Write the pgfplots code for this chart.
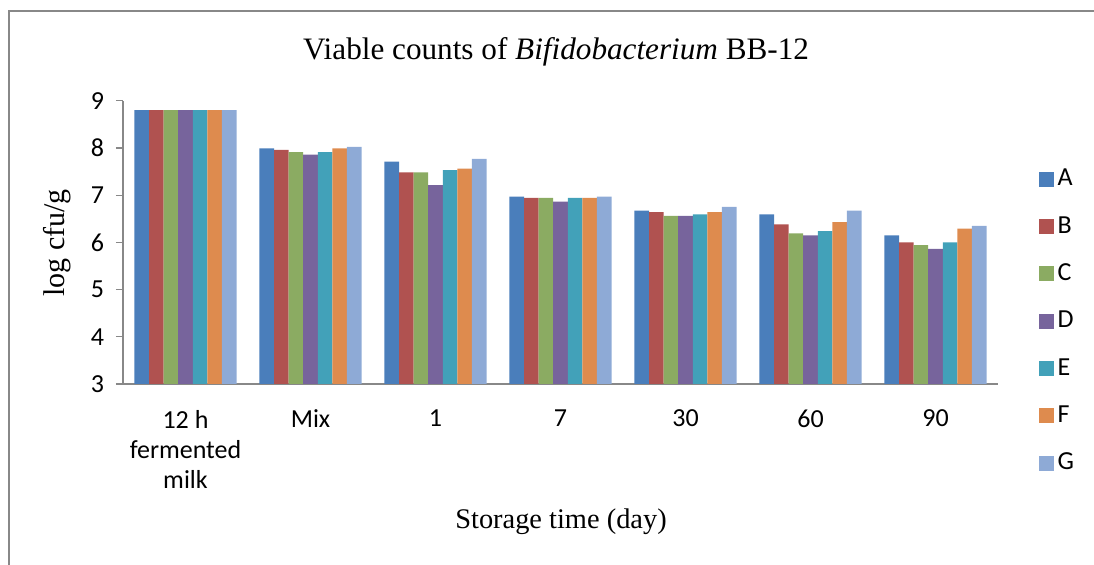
\documentclass[border=0pt]{standalone}
\usepackage{pgfplots}
\usepackage{pgfplotstable}
\pgfplotsset{compat=1.18}
\usepackage{fontspec}
\setmainfont{Liberation Serif}
\newfontfamily\calibri{Carlito}
\definecolor{cA}{HTML}{4A7EBB}
\definecolor{cB}{HTML}{B05250}
\definecolor{cC}{HTML}{8BAB62}
\definecolor{cD}{HTML}{77649C}
\definecolor{cE}{HTML}{42A1B9}
\definecolor{cF}{HTML}{DE8B4E}
\definecolor{cG}{HTML}{8EAAD6}
\definecolor{axgray}{HTML}{888888}
\pgfplotstableread{
x A B C D E F G
0 8.80 8.80 8.80 8.80 8.80 8.80 8.80
1 7.99 7.96 7.91 7.86 7.91 7.99 8.02
2 7.71 7.48 7.48 7.21 7.53 7.56 7.77
3 6.97 6.94 6.94 6.86 6.94 6.94 6.97
4 6.67 6.64 6.56 6.56 6.59 6.64 6.75
5 6.59 6.38 6.19 6.15 6.24 6.43 6.67
6 6.15 6.00 5.94 5.86 6.00 6.29 6.35
}\data
\begin{document}
\begin{tikzpicture}
\path[use as bounding box] (-61.5pt,-90.5pt) rectangle (485.5pt,192pt);
\draw[axgray, line width=1.3pt] (-57pt,-91pt) -- (-57pt,186.5pt) -- (486pt,186.5pt);
\begin{axis}[
  scale only axis,
  width=437.5pt, height=141.65pt,
  at={(0pt,0pt)}, anchor=south west,
  xmin=-0.5, xmax=6.5, ymin=3, ymax=9,
  ytick={3,4,5,6,7,8,9},
  xtick=data,
  xticklabels={{12 h\\fermented\\milk},Mix,1,7,30,60,90},
  axis x line=bottom, axis y line=left,
  axis line style={-, axgray, line width=0.6pt},
  y axis line style={-},
  tick align=outside,
  major tick length=3.5pt,
  ytick style={axgray, line width=0.6pt},
  xtick style={draw=none},
  /pgf/number format/assume math mode=true,
  tick label style={font=\calibri\fontsize{13}{15.2}\selectfont},
  yticklabel style={xshift=-2.5pt},
  xticklabel style={align=center, anchor=north, yshift=-6pt},
  ybar=0pt, bar width=7.29pt,
  title={Viable counts of \textit{Bifidobacterium} BB-12},
  title style={at={(0.4949,1)}, anchor=center, yshift=18.5pt, font=\fontsize{15.6}{18}\selectfont},
  ylabel={log cfu/g},
  ylabel style={at={(axis description cs:-0.0754,0.4977)}, anchor=center, rotate=0, font=\fontsize{15}{17}\selectfont},
  xlabel={Storage time (day)},
  xlabel style={at={(axis description cs:0.5006,-0.487)}, anchor=center, font=\fontsize{14.2}{17}\selectfont},
  legend style={at={(1.046,0.222)}, anchor=west, draw=none, fill=none, inner sep=0pt,
    font=\calibri\fontsize{13}{14}\selectfont, row sep=9.8pt,
    /tikz/every even column/.append style={column sep=4pt}},
  legend cell align=left,
  legend image code/.code={\fill[#1] (0pt,-3.75pt) rectangle (7.5pt,3.75pt);},
  every axis plot/.append style={draw=none},
]
\addplot[fill=cA] table[x=x,y=A]{\data};
\addplot[fill=cB] table[x=x,y=B]{\data};
\addplot[fill=cC] table[x=x,y=C]{\data};
\addplot[fill=cD] table[x=x,y=D]{\data};
\addplot[fill=cE] table[x=x,y=E]{\data};
\addplot[fill=cF] table[x=x,y=F]{\data};
\addplot[fill=cG] table[x=x,y=G]{\data};
\legend{A,B,C,D,E,F,G}
\end{axis}
\end{tikzpicture}
\end{document}
